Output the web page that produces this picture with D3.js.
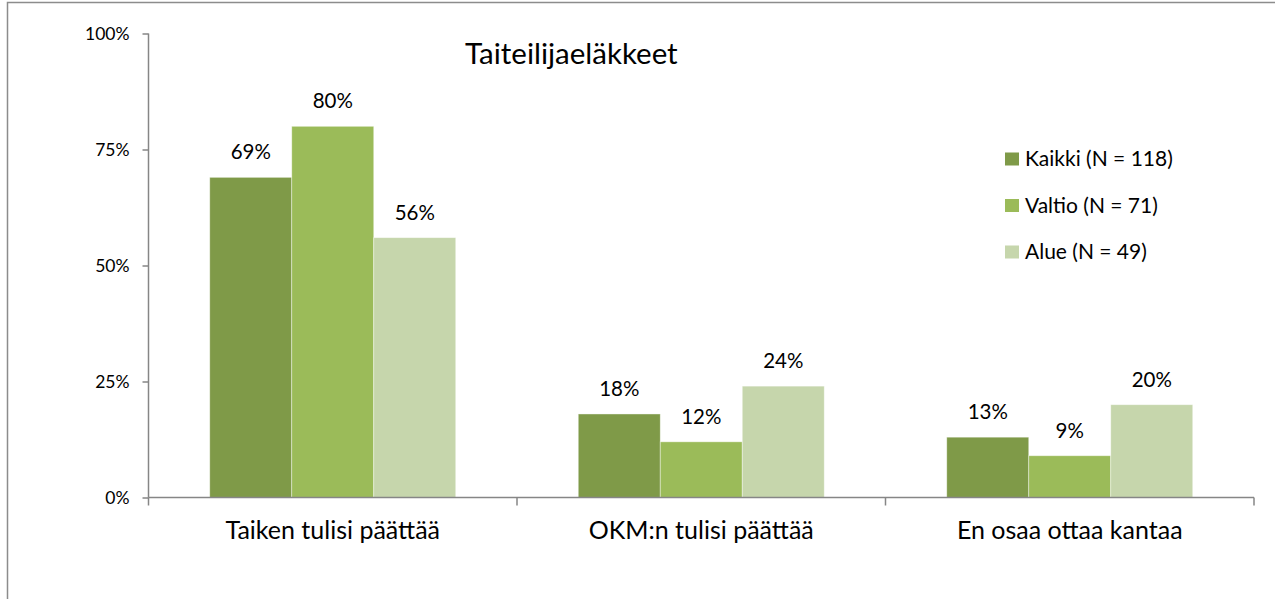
<!DOCTYPE html>
<html><head><meta charset="utf-8">
<script src="https://cdn.jsdelivr.net/npm/d3@7"></script>
<style>html,body{margin:0;padding:0;background:#fff;}svg{display:block;}</style>
</head><body>
<svg id="chart" width="1275" height="599"></svg>
<script>
const title = "Taiteilijaeläkkeet";
const categories = ["Taiken tulisi päättää", "OKM:n tulisi päättää", "En osaa ottaa kantaa"];
const seriesNames = ["Kaikki (N = 118)", "Valtio (N = 71)", "Alue (N = 49)"];
const kaikki = [0.69, 0.18, 0.13];
const valtio = [0.80, 0.12, 0.09];
const alue = [0.56, 0.24, 0.20];
const yTicks = [0, 0.25, 0.5, 0.75, 1];
const colors = ["#7F9A48", "#9BBB59", "#C6D6AC"];

const seriesValues = [kaikki, valtio, alue];
const FONT = "Lato, 'Open Sans', sans-serif";
const svg = d3.select("#chart");

// outer frame (only top and left visible in reference)
svg.append("rect").attr("x", 7.5).attr("y", 2.5).attr("width", 1400).attr("height", 800)
  .attr("fill", "none").attr("stroke", "#8c8c8c").attr("stroke-width", 1.5);

const y = d3.scaleLinear().domain([0, 1]).range([497.5, 33.5]);
const x0 = d3.scaleBand().domain(categories).range([148.5, 1254]).paddingInner(0).paddingOuter(0);
const x1 = d3.scaleBand().domain(seriesNames).range([0, x0.bandwidth()]).paddingInner(0).paddingOuter(0.747);

const axisColor = "#868686";

// bars
categories.forEach((c, ci) => {
  seriesNames.forEach((s, si) => {
    const v = seriesValues[si][ci];
    svg.append("rect")
      .attr("x", x0(c) + x1(s))
      .attr("y", y(v))
      .attr("width", x1.bandwidth())
      .attr("height", y(0) - y(v))
      .attr("fill", colors[si])
      .attr("stroke", "#ffffff").attr("stroke-opacity", 0.5).attr("stroke-width", 0.8);
    svg.append("text")
      .attr("x", x0(c) + x1(s) + x1.bandwidth() / 2)
      .attr("y", y(v) - 18)
      .attr("text-anchor", "middle")
      .attr("font-family", FONT).attr("font-size", 20.5).attr("fill", "#000")
      .text(Math.round(v * 100) + "%");
  });
});

// y axis
const yAxis = d3.axisLeft(y).tickValues(yTicks).tickFormat(d3.format(".0%")).tickSize(6).tickPadding(13);
const gy = svg.append("g").attr("transform", "translate(148.5,0)").call(yAxis);
gy.select(".domain").attr("stroke", axisColor).attr("stroke-width", 1.5).attr("d", "M0,33.5V497.5");
gy.selectAll(".tick line").attr("stroke", axisColor).attr("stroke-width", 1.5);
gy.selectAll(".tick text").attr("font-family", FONT).attr("font-size", 17.5).attr("fill", "#000");

// x axis
const xAxis = d3.axisBottom(x0).tickSize(0).tickPadding(24);
const gx = svg.append("g").attr("transform", "translate(0,497.5)").call(xAxis);
gx.select(".domain").attr("stroke", axisColor).attr("stroke-width", 1.5).attr("d", "M148.5,0H1254");
gx.selectAll(".tick text").attr("font-family", FONT).attr("font-size", 25).attr("fill", "#000");
const bounds = categories.map(c => x0(c)).concat([x0.range()[1]]);
gx.selectAll(".bound").data(bounds).enter().append("line")
  .attr("x1", d => d).attr("x2", d => d).attr("y1", 0).attr("y2", 8)
  .attr("stroke", axisColor).attr("stroke-width", 1.5);

// title
svg.append("text").attr("x", 465).attr("y", 64)
  .attr("font-family", FONT).attr("font-size", 29.5).attr("fill", "#000").text(title);

// legend
const lg = svg.append("g");
seriesNames.forEach((s, i) => {
  const cy = 159 + i * 46.5;
  lg.append("rect").attr("x", 1005).attr("y", cy - 6.5).attr("width", 14).attr("height", 13).attr("fill", colors[i]);
  lg.append("text").attr("x", 1025).attr("y", cy).attr("dy", "0.35em")
    .attr("font-family", FONT).attr("font-size", 21).attr("fill", "#000").text(s);
});
</script>
</body></html>
